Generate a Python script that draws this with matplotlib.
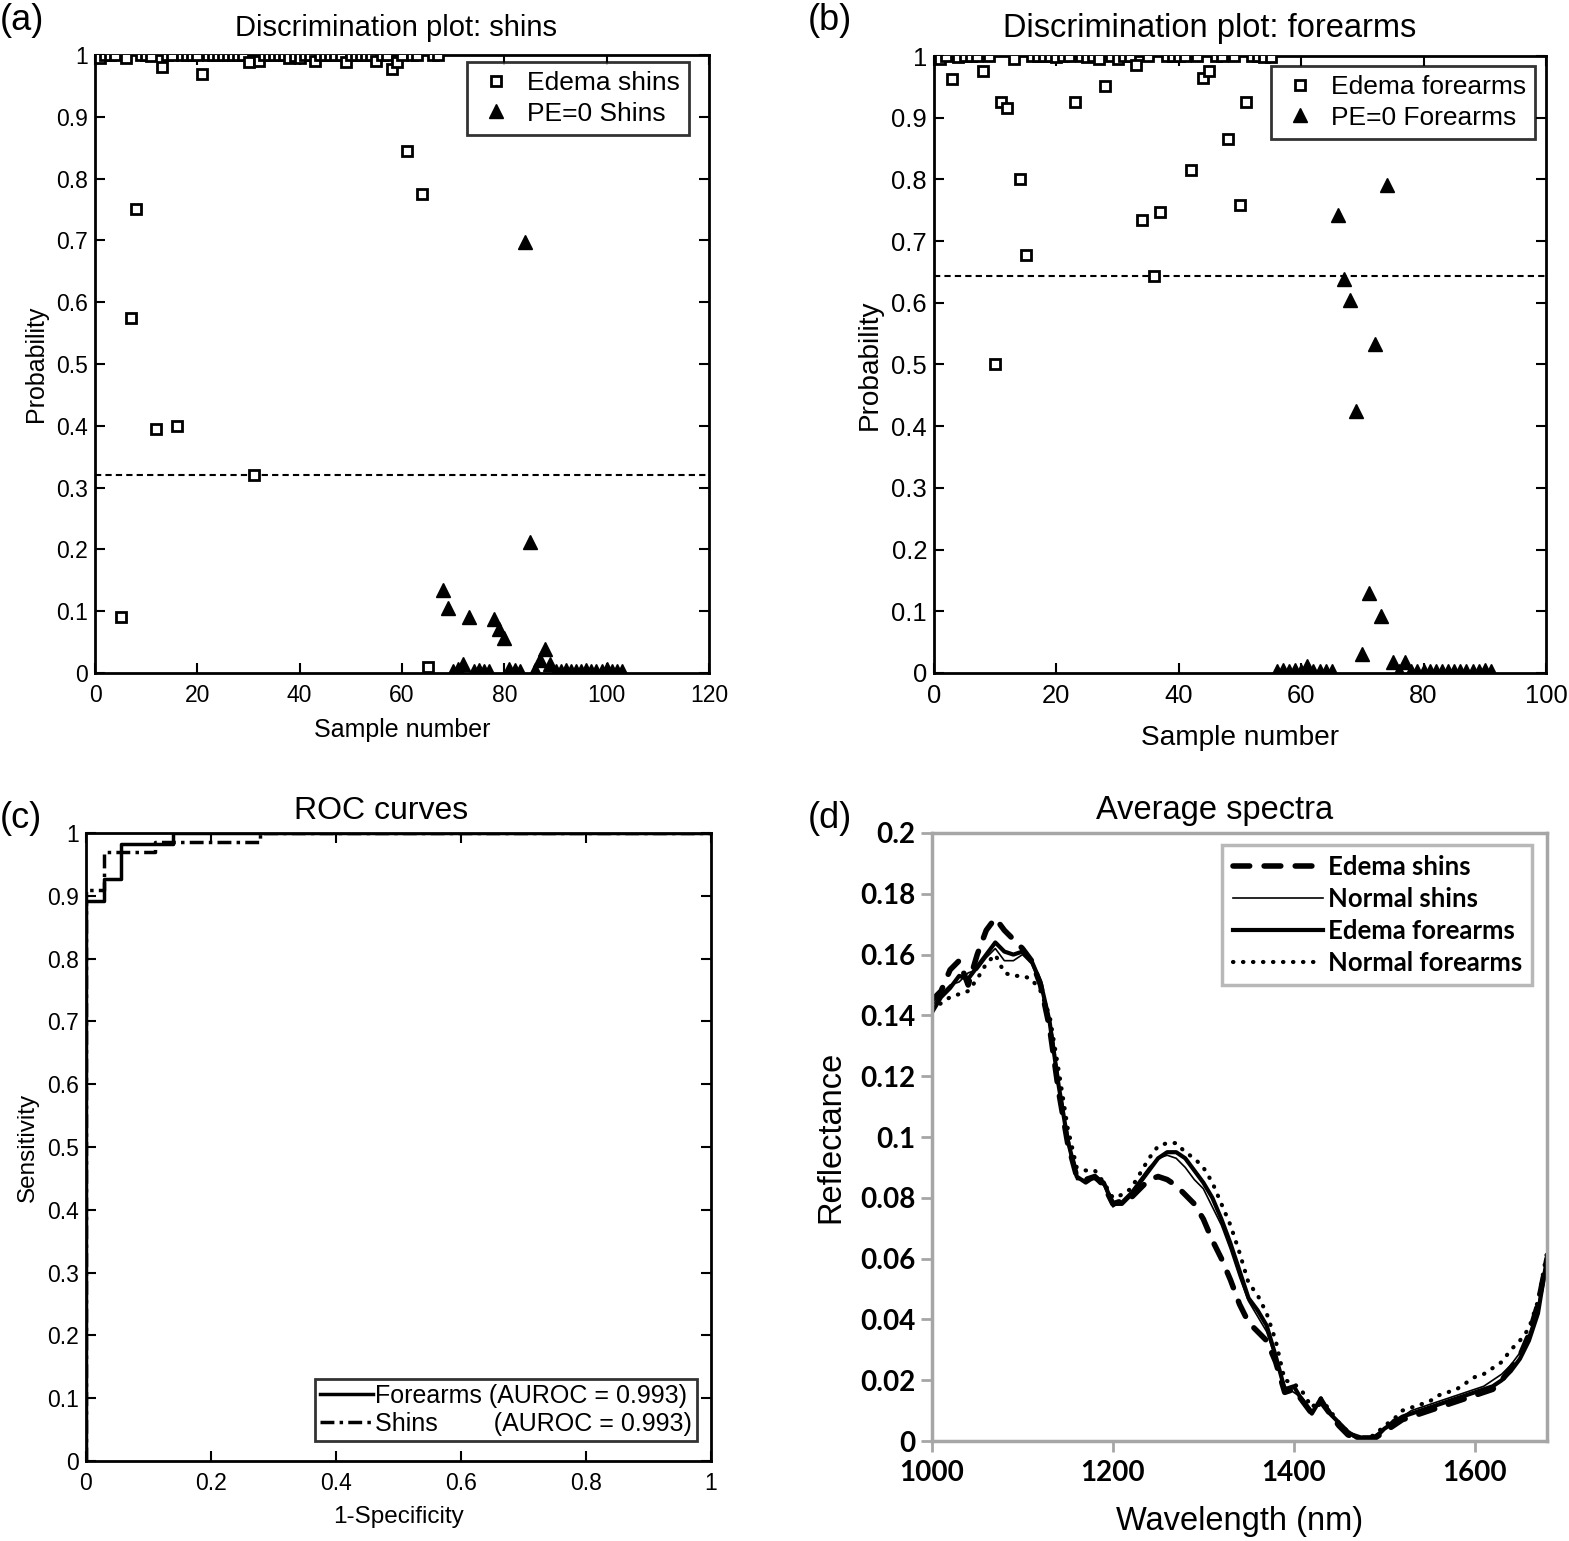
"""Discrimination plots, ROC curves and average spectra (4 panels)."""

import numpy as np
import matplotlib
matplotlib.use("Agg")
import matplotlib.pyplot as plt
from matplotlib.ticker import FuncFormatter

plt.rcParams['font.family'] = ['Liberation Sans', 'DejaVu Sans']

###################################################################################################
## Data

# (a) shins: probability per sample, edema samples first, then PE=0 samples
shins_edema = [0.995, 1.0, 1.0, 1.0, 0.09, 0.995, 0.575, 0.75, 1.0, 1.0,
               0.998, 0.395, 0.98, 1.0, 1.0, 0.40, 1.0, 1.0, 1.0, 1.0,
               0.97, 1.0, 1.0, 1.0, 1.0, 1.0, 1.0, 1.0, 1.0, 0.988,
               0.32, 0.99, 1.0, 1.0, 1.0, 1.0, 1.0, 0.995, 0.998, 0.995,
               1.0, 1.0, 0.991, 1.0, 1.0, 1.0, 1.0, 1.0, 0.988, 1.0,
               1.0, 1.0, 1.0, 1.0, 0.991, 1.0, 1.0, 0.978, 0.989, 1.0,
               0.845, 1.0, 1.0, 0.775, 0.01, 1.0, 1.0]
shins_pe0 = [0.134, 0.105, 0.004, 0.006, 0.015, 0.090, 0.004, 0.005, 0.004, 0.004,
             0.088, 0.071, 0.056, 0.006, 0.005, 0.004, 0.697, 0.212, 0.005, 0.021,
             0.039, 0.015, 0.004, 0.003, 0.005, 0.004, 0.003, 0.004, 0.005, 0.003,
             0.004, 0.003, 0.006, 0.004, 0.003, 0.004]
shins_threshold = 0.32

# (b) forearms
forearms_edema = [0.995, 1.0, 0.962, 0.998, 1.0, 1.0, 1.0, 0.975, 1.0, 0.50,
                  0.925, 0.915, 0.995, 0.80, 0.677, 1.0, 1.0, 1.0, 1.0, 0.998,
                  1.0, 1.0, 0.925, 1.0, 0.998, 1.0, 0.995, 0.952, 1.0, 0.995,
                  1.0, 1.0, 0.985, 0.734, 1.0, 0.643, 0.747, 1.0, 1.0, 1.0,
                  1.0, 0.815, 1.0, 0.965, 0.975, 1.0, 1.0, 0.865, 1.0, 0.758,
                  0.925, 1.0, 1.0, 0.998, 0.998]
forearms_pe0 = [0.004, 0.005, 0.003, 0.005, 0.004, 0.012, 0.003, 0.004, 0.003, 0.004,
                0.742, 0.638, 0.604, 0.425, 0.030, 0.130, 0.533, 0.092, 0.791, 0.018,
                0.004, 0.018, 0.003, 0.004, 0.003, 0.004, 0.003, 0.004, 0.003, 0.003,
                0.004, 0.003, 0.004, 0.003, 0.005, 0.004]
forearms_threshold = 0.643

# (c) ROC curves
roc_forearms_fpr = [0, 0, 0.028, 0.028, 0.056, 0.056, 0.139, 0.139, 1]
roc_forearms_tpr = [0, 0.891, 0.891, 0.927, 0.927, 0.982, 0.982, 1, 1]
roc_shins_fpr = [0, 0, 0.028, 0.028, 0.111, 0.111, 0.278, 0.278, 1]
roc_shins_tpr = [0, 0.910, 0.910, 0.970, 0.970, 0.985, 0.985, 1, 1]
roc_labels = ['Forearms (AUROC = 0.993)', 'Shins        (AUROC = 0.993)']

# (d) average spectra, 1000-1680 nm
wavelength = np.arange(1000, 1681, 10)
spec_edema_shins = [
    0.145, 0.148, 0.155, 0.158, 0.150, 0.160, 0.168, 0.172, 0.168, 0.165,
    0.162, 0.158, 0.150, 0.136, 0.115, 0.098, 0.087, 0.086, 0.087, 0.084,
    0.078, 0.079, 0.080, 0.083, 0.086, 0.087, 0.086, 0.084, 0.081, 0.078,
    0.073, 0.066, 0.060, 0.053, 0.045, 0.039, 0.036, 0.033, 0.026, 0.016,
    0.017, 0.013, 0.009, 0.013, 0.009, 0.005, 0.002, 0.001, 0.001, 0.001,
    0.003, 0.005, 0.007, 0.008, 0.009, 0.010, 0.011, 0.012, 0.013, 0.014,
    0.015, 0.016, 0.017, 0.020, 0.024, 0.028, 0.035, 0.045, 0.060]
spec_normal_shins = [
    0.143, 0.147, 0.150, 0.151, 0.154, 0.155, 0.159, 0.162, 0.158, 0.158,
    0.160, 0.157, 0.150, 0.137, 0.116, 0.098, 0.086, 0.086, 0.086, 0.084,
    0.077, 0.079, 0.082, 0.086, 0.090, 0.093, 0.094, 0.093, 0.090, 0.086,
    0.083, 0.077, 0.071, 0.063, 0.054, 0.046, 0.041, 0.036, 0.027, 0.018,
    0.016, 0.014, 0.010, 0.013, 0.010, 0.005, 0.003, 0.002, 0.001, 0.002,
    0.004, 0.007, 0.008, 0.010, 0.011, 0.012, 0.013, 0.014, 0.015, 0.016,
    0.017, 0.018, 0.020, 0.022, 0.025, 0.029, 0.035, 0.044, 0.061]
spec_edema_forearms = [
    0.141, 0.146, 0.149, 0.153, 0.152, 0.156, 0.160, 0.164, 0.161, 0.160,
    0.161, 0.158, 0.151, 0.138, 0.117, 0.099, 0.087, 0.085, 0.087, 0.085,
    0.078, 0.078, 0.081, 0.085, 0.089, 0.093, 0.095, 0.095, 0.093, 0.089,
    0.085, 0.080, 0.073, 0.065, 0.056, 0.047, 0.043, 0.038, 0.028, 0.017,
    0.018, 0.013, 0.009, 0.014, 0.009, 0.006, 0.003, 0.001, 0.001, 0.001,
    0.004, 0.006, 0.008, 0.009, 0.010, 0.011, 0.012, 0.013, 0.014, 0.015,
    0.016, 0.017, 0.018, 0.020, 0.023, 0.027, 0.033, 0.042, 0.060]
spec_normal_forearms = [
    0.142, 0.144, 0.146, 0.147, 0.148, 0.152, 0.157, 0.160, 0.154, 0.153,
    0.153, 0.152, 0.148, 0.140, 0.122, 0.103, 0.090, 0.089, 0.089, 0.085,
    0.080, 0.081, 0.083, 0.088, 0.093, 0.097, 0.098, 0.098, 0.095, 0.093,
    0.090, 0.085, 0.078, 0.071, 0.062, 0.052, 0.048, 0.042, 0.033, 0.020,
    0.019, 0.016, 0.011, 0.014, 0.010, 0.006, 0.003, 0.001, 0.001, 0.002,
    0.005, 0.007, 0.010, 0.011, 0.012, 0.013, 0.015, 0.016, 0.017, 0.019,
    0.021, 0.022, 0.024, 0.026, 0.030, 0.033, 0.037, 0.046, 0.062]
spec_labels = ['Edema shins', 'Normal shins', 'Edema forearms', 'Normal forearms']

###################################################################################################
## Figure

W_PX, H_PX = 1569, 1541
fig = plt.figure(figsize=(W_PX / 100, H_PX / 100), dpi=100)
gfmt = FuncFormatter(lambda v, p: '%g' % round(v, 6))


def px_axes(left, top, right, bottom):
    """Add axes given pixel edges (origin at top left)."""
    return fig.add_axes([left / W_PX, 1 - bottom / H_PX,
                         (right - left) / W_PX, (bottom - top) / H_PX])


def matlab_style(ax, tick_size):
    """Box with inward ticks on all four sides."""
    ax.tick_params(direction='in', top=True, right=True, length=7, width=1.5,
                   labelsize=tick_size, colors='black')
    ax.tick_params(axis='x', pad=8)
    ax.tick_params(axis='y', pad=5)
    for sp in ax.spines.values():
        sp.set_linewidth(2)
    ax.xaxis.set_major_formatter(gfmt)
    ax.yaxis.set_major_formatter(gfmt)


def discrimination(ax, edema, pe0, thr, xmax, title, labels, anchor, scale, title_x, xpad):
    x_edema = np.arange(1, len(edema) + 1)
    x_pe0 = np.arange(len(edema) + 1, len(edema) + len(pe0) + 1)
    ax.axhline(thr, color='black', lw=1.5, ls=(0, (3, 2)), zorder=1)
    ax.plot(x_edema, edema, 's', ms=7, mfc='white', mec='black', mew=2,
            label=labels[0], zorder=3)
    ax.plot(x_pe0, pe0, '^', ms=10, color='black', label=labels[1], zorder=3)
    ax.set_xlim(0, xmax)
    ax.set_ylim(0, 1)
    ax.set_xticks(np.arange(0, xmax + 1, 20))
    ax.set_yticks(np.arange(0, 1.01, 0.1))
    matlab_style(ax, 16.5 * scale)
    ax.set_xlabel('Sample number', fontsize=18 * scale, labelpad=xpad)
    ax.set_ylabel('Probability', fontsize=18 * scale, labelpad=6)
    ax.set_title(title, fontsize=21 * scale, pad=14, x=title_x)
    leg = ax.legend(loc='upper right', bbox_to_anchor=anchor, borderaxespad=0,
                    fontsize=19, fancybox=False, edgecolor='black',
                    handletextpad=0.4, borderpad=0.35, labelspacing=0.25,
                    handlelength=1.5)
    leg.get_frame().set_linewidth(2)


# (a)
ax_a = px_axes(95, 55, 709, 673)
discrimination(ax_a, shins_edema, shins_pe0, shins_threshold, 120,
               'Discrimination plot: shins', ['Edema shins', 'PE=0 Shins'],
               (0.967, 0.989), 1.0, 0.49, 8)

# (b)
ax_b = px_axes(934, 56, 1546, 673)
discrimination(ax_b, forearms_edema, forearms_pe0, forearms_threshold, 100,
               'Discrimination plot: forearms', ['Edema forearms', 'PE=0 Forearms'],
               (0.982, 0.984), 1.12, 0.451, 12)

# (c)
ax_c = px_axes(86, 833, 711, 1461)
ax_c.plot(roc_forearms_fpr, roc_forearms_tpr, color='black', lw=2.5, label=roc_labels[0])
ax_c.plot(roc_shins_fpr, roc_shins_tpr, color='black', lw=2.5,
          ls=(0, (4, 1.5, 1, 1.5)), label=roc_labels[1])
ax_c.set_xlim(0, 1)
ax_c.set_ylim(0, 1)
ax_c.set_xticks(np.arange(0, 1.01, 0.2))
ax_c.set_yticks(np.arange(0, 1.01, 0.1))
matlab_style(ax_c, 16.5)
ax_c.set_xlabel('1-Specificity', fontsize=17.5, labelpad=8)
ax_c.set_ylabel('Sensitivity', fontsize=17.5, labelpad=6)
ax_c.set_title('ROC curves', fontsize=23, pad=10, x=0.472)
leg = ax_c.legend(loc='lower right', bbox_to_anchor=(0.978, 0.032), borderaxespad=0,
                  fontsize=18, fancybox=False, edgecolor='black', handlelength=2.1,
                  handletextpad=0.1, borderpad=0.2, labelspacing=0.15)
leg.get_frame().set_linewidth(2)

# (d)
GREY = '#a6a6a6'
ax_d = px_axes(932, 833, 1547, 1441)
ax_d.plot(wavelength, spec_edema_shins, color='black', lw=4,
          ls=(0, (3, 2.6)), dash_capstyle='round', label=spec_labels[0])
ax_d.plot(wavelength, spec_normal_shins, color='black', lw=1.2, label=spec_labels[1])
ax_d.plot(wavelength, spec_edema_forearms, color='black', lw=3, label=spec_labels[2])
ax_d.plot(wavelength, spec_normal_forearms, color='black', lw=3,
          ls=(0, (0.1, 2.3)), dash_capstyle='round', label=spec_labels[3])
ax_d.set_xlim(1000, 1680)
ax_d.set_ylim(0, 0.2)
ax_d.set_xticks([1000, 1200, 1400, 1600])
ax_d.set_yticks(np.arange(0, 0.2001, 0.02))
ax_d.yaxis.set_major_formatter(gfmt)
ax_d.tick_params(direction='out', length=8, width=2, color=GREY, labelcolor='black')
ax_d.tick_params(axis='y', pad=4)
ax_d.tick_params(axis='x', pad=6)
for lab in ax_d.get_xticklabels() + ax_d.get_yticklabels():
    lab.set_fontfamily(['Lato', 'DejaVu Sans'])
    lab.set_fontweight('bold')
    lab.set_fontsize(20)
for sp in ax_d.spines.values():
    sp.set_color(GREY)
    sp.set_linewidth(2.5)
ax_d.set_xlabel('Wavelength (nm)', fontsize=23.5, labelpad=14)
ax_d.set_ylabel('Reflectance', fontsize=23.5, labelpad=10)
ax_d.set_title('Average spectra', fontsize=23.5, pad=10, x=0.46)
leg = ax_d.legend(loc='upper right', bbox_to_anchor=(0.976, 0.980), borderaxespad=0,
                  prop={'family': ['Lato', 'DejaVu Sans'], 'weight': 'bold', 'size': 18.5},
                  fancybox=False, edgecolor=GREY, handlelength=3.5, handletextpad=0.2,
                  borderpad=0.4, labelspacing=0.3)
leg.get_frame().set_linewidth(2.5)

# panel letters
for lbl, (x, y) in zip(['(a)', '(b)', '(c)', '(d)'],
                       [(0, 21), (808, 21), (0, 819), (808, 819)]):
    fig.text(x / W_PX, 1 - y / H_PX, lbl, fontsize=26, ha='left', va='center')

fig.savefig('out.png', dpi=100)
